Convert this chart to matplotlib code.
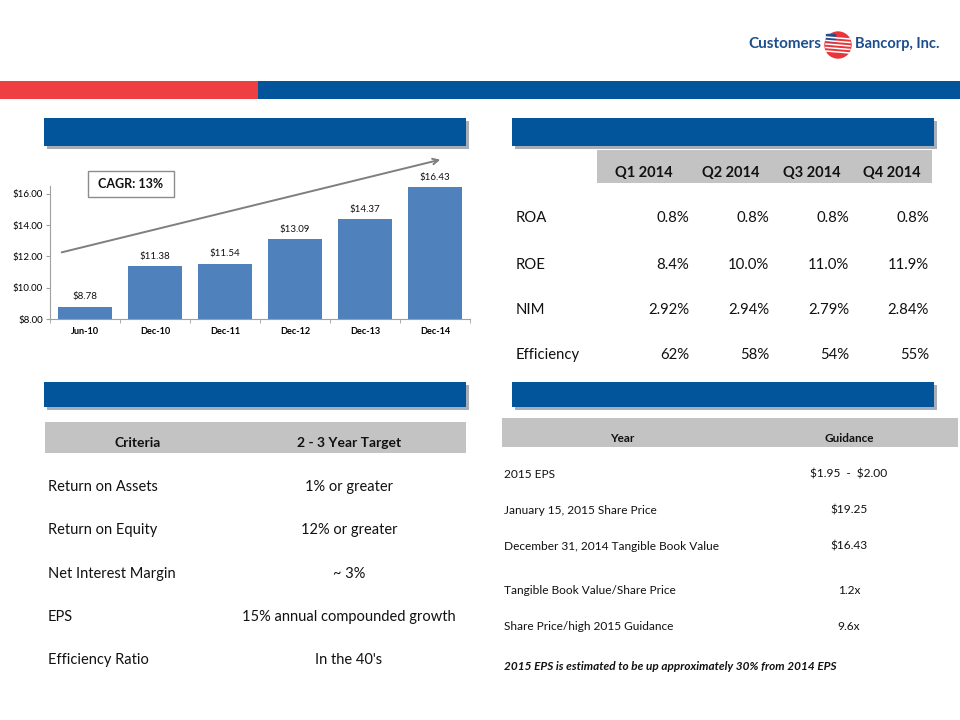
import matplotlib
matplotlib.use("Agg")
import matplotlib.pyplot as plt
from matplotlib.patches import Rectangle, Circle, FancyArrowPatch

plt.rcParams['font.family'] = ['Lato', 'DejaVu Sans']

# ---------------- data ----------------
periods = ["Jun-10", "Dec-10", "Dec-11", "Dec-12", "Dec-13", "Dec-14"]
tbv = [8.78, 11.38, 11.54, 13.09, 14.37, 16.43]
y_ticks = [8.0, 10.0, 12.0, 14.0, 16.0]
cagr_text = "CAGR: 13%"

quarters = ["Q1 2014", "Q2 2014", "Q3 2014", "Q4 2014"]
metric_names = ["ROA", "ROE", "NIM", "Efficiency"]
roa = ["0.8%", "0.8%", "0.8%", "0.8%"]
roe = ["8.4%", "10.0%", "11.0%", "11.9%"]
nim = ["2.92%", "2.94%", "2.79%", "2.84%"]
eff = ["62%", "58%", "54%", "55%"]

target_header = ["Criteria", "2 - 3 Year Target"]
criteria = ["Return on Assets", "Return on Equity", "Net Interest Margin", "EPS", "Efficiency Ratio"]
targets = ["1% or greater", "12% or greater", "~ 3%", "15% annual compounded growth", "In the 40's"]

guide_header = ["Year", "Guidance"]
guide_items = ["2015 EPS", "January 15, 2015 Share Price", "December 31, 2014 Tangible Book Value",
               "Tangible Book Value/Share Price", "Share Price/high 2015 Guidance"]
guide_values = ["$1.95  -  $2.00", "$19.25", "$16.43", "1.2x", "9.6x"]
guide_note = "2015 EPS is estimated to be up approximately 30% from 2014 EPS"

# ---------------- styles ----------------
BLUE = "#03559B"
RED = "#EE3F43"
GRAY_HDR = "#C3C3C3"
BAR = "#4F81BD"
TXT = "#111111"
LOGO = "#1C4E8E"

fig = plt.figure(figsize=(9.6, 7.2), dpi=100)
bg = fig.add_axes([0, 0, 1, 1])
bg.set_xlim(0, 960)
bg.set_ylim(720, 0)
bg.axis("off")

# logo
bg.text(821, 44, "Customers", ha="right", va="center", fontsize=11, fontweight="bold",
        color=LOGO, parse_math=False)
bg.add_patch(Circle((838, 45), 13, color="#E8343A"))
for k in range(5):
    bg.plot([826, 850], [37 + k * 3.5, 39 + k * 3.5], color="white", lw=1.1)
bg.add_patch(Rectangle((826, 34), 9, 7, color="#2B4C8C"))
bg.text(855, 44, "Bancorp, Inc.", ha="left", va="center", fontsize=10.5, fontweight="bold",
        color=LOGO, parse_math=False)

# bands
bg.add_patch(Rectangle((0, 81), 258, 18, color=RED, lw=0))
bg.add_patch(Rectangle((258, 81), 702, 18, color=BLUE, lw=0))

def blue_box(x, y, w, h):
    bg.add_patch(Rectangle((x + 3, y + 3), w, h, color="#A7AEB8", lw=0))
    bg.add_patch(Rectangle((x, y), w, h, color=BLUE, lw=0))

blue_box(44, 118, 422, 28)
blue_box(512, 118, 422, 28)
blue_box(44, 382, 422, 25)
blue_box(512, 382, 422, 25)

# ---------------- bar chart ----------------
ax = fig.add_axes([50 / 960, 1 - 319 / 720, 420 / 960, 133 / 720])
x = list(range(len(periods)))
ax.bar(x, tbv, width=0.77, color=BAR, zorder=2)
ax.set_ylim(8, 16.5)
ax.set_xlim(-0.5, len(periods) - 0.5)
ax.set_yticks(y_ticks)
ax.set_yticklabels([f"${v:.2f}" for v in y_ticks], fontsize=7)
ax.set_xticks(x)
ax.set_xticklabels(periods, fontsize=6.6, fontweight="bold")
ax.tick_params(axis="x", length=0, pad=6)
ax.set_xticks([i - 0.5 for i in range(len(periods) + 1)], minor=True)
ax.tick_params(axis="x", which="minor", length=3, color="#A0A0A0")
ax.tick_params(axis="y", length=3, color="#A0A0A0", pad=2)
for s in ["top", "right"]:
    ax.spines[s].set_visible(False)
for s in ["left", "bottom"]:
    ax.spines[s].set_color("#A0A0A0")
    ax.spines[s].set_linewidth(0.8)
ax.set_facecolor("none")
for xi, v in zip(x, tbv):
    ax.annotate(f"${v:.2f}", (xi, v), xytext=(0, 4), textcoords="offset points",
                ha="center", va="bottom", fontsize=7, color=TXT, annotation_clip=False)

# CAGR box and trend arrow
bg.add_patch(Rectangle((88, 171), 86, 26, facecolor="white", edgecolor="#8C8C8C", lw=1.0, zorder=5))
bg.text(131, 184, cagr_text, ha="center", va="center", fontsize=9, fontweight="bold", color=TXT, zorder=6)
bg.add_patch(FancyArrowPatch((59, 253), (443, 159), arrowstyle="->", mutation_scale=10,
                             color="#7F7F7F", lw=1.4, zorder=6))

# ---------------- top right table ----------------
bg.add_patch(Rectangle((597, 150), 335, 33, color=GRAY_HDR, lw=0))
q_centers = [644, 731, 812, 892]
v_right = [689, 769, 849, 929]
for qc, q in zip(q_centers, quarters):
    bg.text(qc, 173, q, ha="center", va="center", fontsize=10.5, fontweight="bold", color=TXT)
row_y = [218, 265, 310, 355]
for ry, name, vals in zip(row_y, metric_names, [roa, roe, nim, eff]):
    bg.text(516, ry, name, ha="left", va="center", fontsize=10.7, color=TXT)
    for xr, v in zip(v_right, vals):
        bg.text(xr, ry, v, ha="right", va="center", fontsize=10.7, color=TXT)

# ---------------- lower left table ----------------
bg.add_patch(Rectangle((45, 422), 421, 31, color=GRAY_HDR, lw=0))
bg.text(138, 443, target_header[0], ha="center", va="center", fontsize=10, fontweight="bold", color=TXT)
bg.text(349, 443, target_header[1], ha="center", va="center", fontsize=10, fontweight="bold", color=TXT)
ll_y = [487, 530, 574, 617, 660]
for ry, c, t in zip(ll_y, criteria, targets):
    bg.text(48, ry, c, ha="left", va="center", fontsize=10.5, color=TXT)
    bg.text(349, ry, t, ha="center", va="center", fontsize=10.5, color=TXT)

# ---------------- lower right table ----------------
bg.add_patch(Rectangle((502, 418), 456, 29, color=GRAY_HDR, lw=0))
bg.text(622, 438, guide_header[0], ha="center", va="center", fontsize=8.5, fontweight="bold", color=TXT)
bg.text(849, 438, guide_header[1], ha="center", va="center", fontsize=8.5, fontweight="bold", color=TXT)
lr_y = [474, 510, 546, 590, 626]
for ry, item, val in zip(lr_y, guide_items, guide_values):
    bg.text(504, ry, item, ha="left", va="center", fontsize=8.6, color=TXT, parse_math=False)
    bg.text(849, ry, val, ha="center", va="center", fontsize=8.6, color=TXT, parse_math=False)
bg.text(504, 666, guide_note, ha="left", va="center", fontsize=8.5, fontweight="bold",
        fontstyle="italic", color=TXT)

fig.savefig("out.png", dpi=100)
